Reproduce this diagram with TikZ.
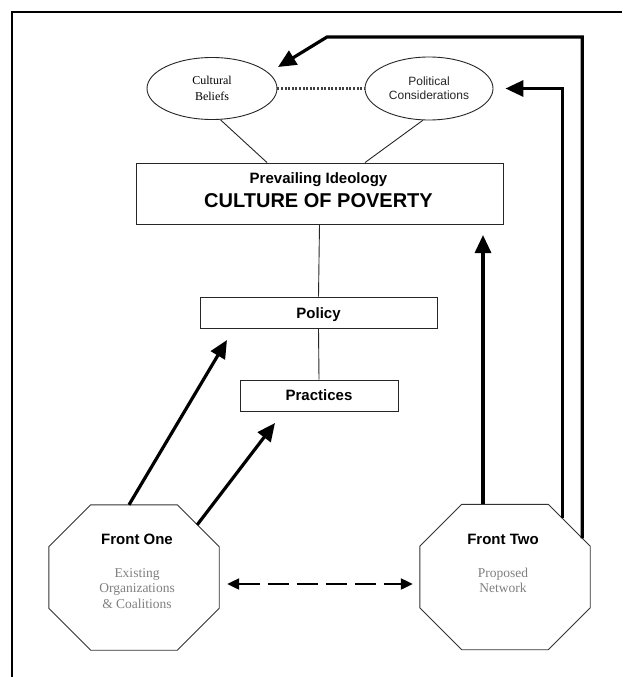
\documentclass[tikz,border=0pt]{standalone}
\usepackage{fontspec}
\setmainfont{Liberation Serif}
\newfontfamily\arialf{Liberation Sans}
\usetikzlibrary{arrows.meta,shapes.geometric}
\begin{document}
\begin{tikzpicture}[x=1pt,y=-1pt,
  conn/.style={draw=black!85,line width=0.9pt},
  boxn/.style={rectangle,draw=black!85,line width=0.9pt,inner sep=0pt,fill=white},
  elln/.style={ellipse,draw=black!85,line width=0.9pt,inner sep=0pt,align=center,fill=white},
  octn/.style={rectangle,draw=none,inner sep=0pt,minimum width=170pt,minimum height=145pt},
  octline/.style={draw=black!80,line width=0.9pt,line join=miter},
  boldt/.style={font=\arialf\bfseries\fontsize{15}{17}\selectfont,inner sep=0pt,anchor=base},
  grayt/.style={font=\fontsize{13.5}{15}\selectfont,text=black!50,inner sep=0pt,anchor=base},
  bigarrow/.style={line width=3.2pt,-{Triangle[length=18pt,width=16pt]}},
  dasharrow/.style={line width=2.2pt,dash pattern=on 21pt off 8pt,{Triangle[length=12pt,width=11pt]}-{Triangle[length=12pt,width=11pt]}},
  dotline/.style={draw=black!75,line width=2.4pt,dash pattern=on 2pt off 1.6pt},
]
\useasboundingbox (0,0) rectangle (622,677);
\fill[white] (0,0) rectangle (622,677);
\draw[line width=2pt] (12,677) -- (12,12) -- (622,12);

% ellipses
\node[elln,minimum width=130pt,minimum height=62pt,font=\fontsize{12}{16}\selectfont] (cb) at (212,88.5) {Cultural\\Beliefs};
\node[elln,minimum width=128pt,minimum height=63pt,font=\arialf\fontsize{12}{14}\selectfont,text=black!85] (pc) at (429,88.5) {Political\\Considerations};

% boxes
\node[boxn,minimum width=367pt,minimum height=61pt] (pi) at (319.5,193.5) {};
\node[boldt] (pit) at (318.5,183) {Prevailing Ideology};
\node[font=\arialf\bfseries\fontsize{20}{22}\selectfont,inner sep=0pt,anchor=base] (cop) at (318.5,207.5) {CULTURE OF POVERTY};
\node[boxn,minimum width=237pt,minimum height=31pt] (pol) at (318.5,312.5) {};
\node[boldt] (polt) at (318.5,318) {Policy};
\node[boxn,minimum width=158pt,minimum height=31pt] (pra) at (319,395.5) {};
\node[boldt] (prat) at (319,400) {Practices};

% octagons
\node[octn] (f1) at (134,577.5) {};
\node[octn] (f2) at (505,577) {};
\foreach \o in {f1,f2}{
  \draw[octline] ([xshift=42pt]\o.north west) -- ([xshift=-42pt]\o.north east) -- ([yshift=-42pt]\o.north east)
    -- ([yshift=42pt]\o.south east) -- ([xshift=-42pt]\o.south east) -- ([xshift=42pt]\o.south west)
    -- ([yshift=42pt]\o.south west) -- ([yshift=-42pt]\o.north west) -- cycle;
}
\node[boldt] (f1t) at (137,544) {Front One};
\node[grayt] (f1a) at (137,577) {Existing};
\node[grayt] (f1b) at (137,592.5) {Organizations};
\node[grayt] (f1c) at (137,608) {\& Coalitions};
\node[boldt] (f2t) at (503,544) {Front Two};
\node[grayt] (f2a) at (503,577) {Proposed};
\node[grayt] (f2b) at (503,592.5) {Network};

% thin connectors
\draw[dotline] (cb.east) -- (pc.west);
\draw[conn] (cb.-75) -- ([xshift=-52.5pt]pi.north);
\draw[conn] (pc.-101) -- ([xshift=45.5pt]pi.north);
\draw[conn] (pi.south) -- (pol.north);
\draw[conn] (pol.south) -- (pra.north);

% thick arrows
\coordinate (t1) at (227,340);
\coordinate (t2) at (275,423);
\coordinate (t3) at (483,235);
\coordinate (c5) at (327,37);
\coordinate (t5) at (278,67);
\draw[bigarrow] ([xshift=-5pt]f1.north) -- (t1);
\draw[bigarrow] ([xshift=-22pt,yshift=-20pt]f1.north east) -- (t2);
\draw[bigarrow] ([xshift=-22pt]f2.north) -- (t3);
\draw[bigarrow] ([xshift=-28pt,yshift=-14pt]f2.north east) |- ([xshift=12pt]pc.east);
\draw[bigarrow] ([xshift=-8pt,yshift=-34pt]f2.north east) |- (c5) -- (t5);

% dashed double arrow
\draw[dasharrow] ([xshift=8pt,yshift=-6.5pt]f1.east) -- ([xshift=-7pt,yshift=-7pt]f2.west);
\end{tikzpicture}
\end{document}
